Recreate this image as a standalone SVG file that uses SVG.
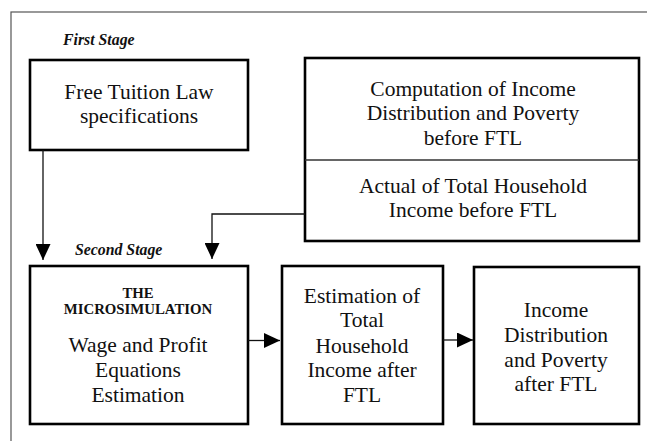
<svg xmlns="http://www.w3.org/2000/svg" width="647" height="441" viewBox="0 0 647 441">
  <style>
    .box { fill: #fff; stroke: #000; stroke-width: 2.6; }
    .frame { fill: none; stroke: #555; stroke-width: 1.2; }
    .divider { stroke: #333; stroke-width: 1.3; }
    text { font-family: 'Liberation Serif', 'DejaVu Serif', serif; fill: #111; }
    .t { font-size: 21.5px; text-anchor: middle; }
    .stage { font-size: 15.8px; font-weight: bold; font-style: italic; }
    .caps { font-size: 14.8px; font-weight: bold; text-anchor: middle; }
    .link { fill: none; stroke: #111; stroke-width: 1.3; }
  </style>
  <defs>
    <marker id="head" viewBox="0 0 16 15" refX="16" refY="7.5" markerWidth="16" markerHeight="15" markerUnits="userSpaceOnUse" orient="auto">
      <path d="M0,0 L16,7.5 L0,15 Z" fill="#000"/>
    </marker>
  </defs>

  <!-- outer frame (runs off the right and bottom edges) -->
  <rect class="frame" x="11" y="12" width="700" height="500"/>

  <text class="stage" x="63" y="45">First Stage</text>
  <text class="stage" x="75" y="255">Second Stage</text>

  <g id="ftl-spec">
    <rect class="box" x="30" y="60" width="218" height="90"/>
    <text class="t" x="139" y="99">Free Tuition Law</text>
    <text class="t" x="139" y="123">specifications</text>
  </g>

  <g id="before-ftl">
    <rect class="box" x="305" y="58" width="334" height="183"/>
    <line class="divider" x1="305" y1="160" x2="639" y2="160"/>
    <text class="t" x="473" y="96">Computation of Income</text>
    <text class="t" x="473" y="120">Distribution and Poverty</text>
    <text class="t" x="473" y="145">before FTL</text>
    <text class="t" x="473" y="193">Actual of Total Household</text>
    <text class="t" x="473" y="217">Income before FTL</text>
  </g>

  <g id="microsimulation">
    <rect class="box" x="30" y="266" width="218" height="158"/>
    <text class="caps" x="138" y="298">THE</text>
    <text class="caps" x="138" y="314">MICROSIMULATION</text>
    <text class="t" x="138" y="352">Wage and Profit</text>
    <text class="t" x="138" y="377">Equations</text>
    <text class="t" x="138" y="402">Estimation</text>
  </g>

  <g id="income-estimation">
    <rect class="box" x="282" y="266" width="161" height="158"/>
    <text class="t" x="362" y="303">Estimation of</text>
    <text class="t" x="362" y="327">Total</text>
    <text class="t" x="362" y="353">Household</text>
    <text class="t" x="362" y="377">Income after</text>
    <text class="t" x="362" y="402">FTL</text>
  </g>

  <g id="after-ftl">
    <rect class="box" x="474" y="267" width="165" height="157"/>
    <text class="t" x="556" y="317">Income</text>
    <text class="t" x="556" y="342">Distribution</text>
    <text class="t" x="556" y="367">and Poverty</text>
    <text class="t" x="556" y="391">after FTL</text>
  </g>

  <g id="connectors">
    <path class="link" d="M43,150 V260" marker-end="url(#head)"/>
    <path class="link" d="M305,214 H212 V259" marker-end="url(#head)"/>
    <path class="link" d="M248,340.5 H280" marker-end="url(#head)"/>
    <path class="link" d="M443,340 H473" marker-end="url(#head)"/>
  </g>
</svg>
